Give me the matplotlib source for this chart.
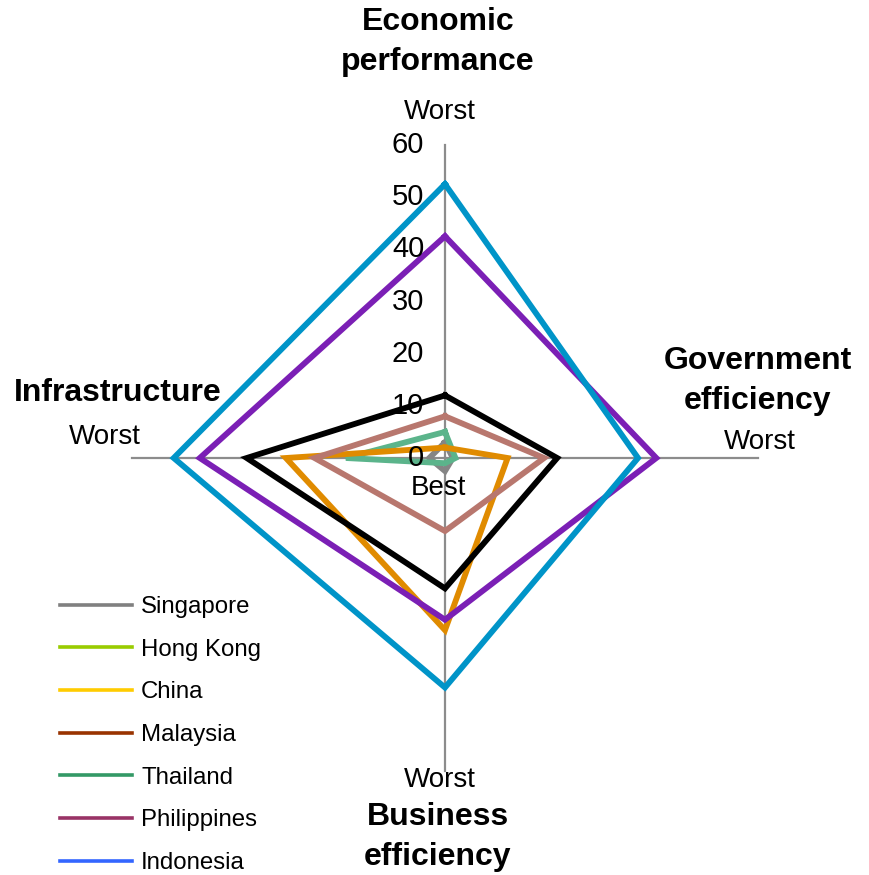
import numpy as np
import matplotlib
matplotlib.use("Agg")
import matplotlib.pyplot as plt
from matplotlib.lines import Line2D
from matplotlib.transforms import offset_copy

plt.rcParams["font.family"] = ["Liberation Sans", "DejaVu Sans"]

# axes, clockwise from the top
axes_names = ["Economic performance", "Government efficiency",
              "Business efficiency", "Infrastructure"]
countries = ["Singapore", "Hong Kong", "China", "Malaysia",
             "Thailand", "Philippines", "Indonesia"]

# rank values: [economic, government, business, infrastructure]
singapore = [3, 1.5, 2.5, 3]
hong_kong = [5, 2, 1, 19]
china = [2, 12, 33, 30.5]
malaysia = [8, 19, 14, 25]
thailand = [12, 21.5, 25, 38]
philippines = [42.5, 40.5, 31, 47]
indonesia = [52.5, 37, 44, 52]
series = [singapore, hong_kong, china, malaysia, thailand, philippines, indonesia]

r_ticks = [0, 10, 20, 30, 40, 50, 60]

# line colours as drawn, and the (different) colours the legend swatches show
line_colors = ["#858585", "#5BB48B", "#E08B00", "#B8776E", "#000000", "#7B1FB5", "#0094C8"]
legend_colors = ["#808080", "#99CC00", "#FFCC00", "#993300", "#339966", "#993366", "#3366FF"]

W, H = 870, 875
fig = plt.figure(figsize=(W / 100, H / 100), dpi=100)
cx, cy, R = 445, 458, 313
ax = fig.add_axes([(cx - R) / W, (H - cy - R) / H, 2 * R / W, 2 * R / H], projection="polar")
ax.set_theta_zero_location("N")
ax.set_theta_direction(-1)
ax.set_ylim(0, 60)
ax.axis("off")

theta = np.arange(len(axes_names)) * 2 * np.pi / len(axes_names)

# spokes
for t in theta:
    ax.plot([t, t], [0, 60], color="#8C8C8C", lw=1.6, clip_on=False, zorder=1)

for vals, c in zip(series, line_colors):
    ax.plot(np.r_[theta, theta[0]], np.r_[vals, vals[0]], color=c, lw=4.2,
            solid_joinstyle="miter", clip_on=False, zorder=2)

tr = offset_copy(ax.transData, fig=fig, x=-15, y=0, units="points")
for r in r_ticks:
    ax.text(0, r, str(r), transform=tr, ha="right", va="center", fontsize=21, zorder=3)

def ft(x, y, s, **kw):
    fig.text(x / W, 1 - y / H, s, ha="center", va="center", **kw)

bold = dict(fontsize=23, fontweight="bold", linespacing=1.42)
ft(438, 42, "Economic\nperformance", **bold)
ft(758, 381, "Government\nefficiency", **bold)
ft(438, 837, "Business\nefficiency", **bold)
ft(118, 393, "Infrastructure", **bold)
ft(440, 112, "Worst", fontsize=20)
ft(760, 442, "Worst", fontsize=20)
ft(105, 437, "Worst", fontsize=20)
ft(440, 780, "Worst", fontsize=20)
ft(438, 488, "Best", fontsize=20)

handles = [Line2D([], [], color=c, lw=2.6) for c in legend_colors]
fig.legend(handles, countries, loc="upper left", bbox_to_anchor=(60 / W, 1 - 596 / H),
           frameon=False, fontsize=17.3, handlelength=3.0, handletextpad=0.38,
           labelspacing=0.86, borderpad=0, borderaxespad=0)

fig.savefig("out.png", dpi=100)
